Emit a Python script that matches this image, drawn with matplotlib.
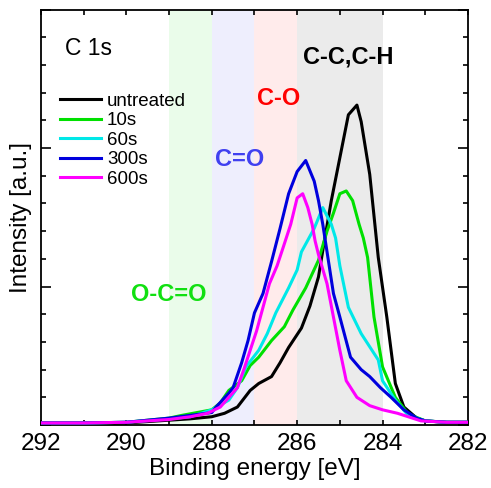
import numpy as np
import matplotlib
matplotlib.use("Agg")
import matplotlib.pyplot as plt
from matplotlib.ticker import MultipleLocator

plt.rcParams['font.family'] = ['Liberation Sans', 'DejaVu Sans']

# binding energy (eV) / intensity (a.u.)
e_untreated = [292, 291, 290, 289, 288.5, 288.0, 287.7, 287.4, 287.1, 286.9, 286.6, 286.4, 286.2,
               285.9, 285.7, 285.5, 285.4, 285.2, 285.0, 284.8, 284.6, 284.5, 284.3, 284.1,
               283.9, 283.7, 283.5, 283.2, 283.0, 282.5, 282.0]
i_untreated = [0.015, 0.015, 0.015, 0.035, 0.045, 0.06, 0.085, 0.13, 0.25, 0.30, 0.35, 0.45, 0.56,
               0.70, 0.86, 1.07, 1.26, 1.62, 1.93, 2.24, 2.31, 2.19, 1.81, 1.21,
               0.78, 0.30, 0.13, 0.05, 0.03, 0.02, 0.02]

e_10s = [292, 291, 290, 289, 288.7, 288.0, 287.8, 287.6, 287.3, 287.1, 286.9, 286.6, 286.3, 286.1,
         285.8, 285.5, 285.3, 285.15, 285.0, 284.85, 284.7, 284.55, 284.45, 284.35, 284.2, 284.0,
         283.7, 283.4, 283.0, 282.5, 282]
i_10s = [0.015, 0.015, 0.02, 0.05, 0.07, 0.11, 0.16, 0.25, 0.32, 0.43, 0.49, 0.61, 0.71, 0.83,
         0.99, 1.19, 1.40, 1.53, 1.67, 1.69, 1.62, 1.45, 1.35, 1.21, 0.78, 0.42,
         0.20, 0.08, 0.03, 0.02, 0.02]

e_60s = [292, 291, 290, 289, 288.5, 288.0, 287.6, 287.4, 287.2, 286.9, 286.7, 286.5, 286.2, 286.0,
         285.9, 285.6, 285.4, 285.2, 285.1, 285.0, 284.8, 284.5, 284.1, 284.0, 283.7, 283.4,
         283.0, 282.5, 282]
i_60s = [0.015, 0.015, 0.02, 0.045, 0.06, 0.11, 0.18, 0.27, 0.42, 0.54, 0.66, 0.81, 0.99, 1.12,
         1.25, 1.42, 1.57, 1.45, 1.35, 1.15, 0.85, 0.66, 0.47, 0.32, 0.18, 0.07,
         0.03, 0.02, 0.02]

e_300s = [292, 291, 290, 289, 288.5, 288.0, 287.9, 287.6, 287.5, 287.3, 287.15, 287.0, 286.8, 286.6,
          286.4, 286.2, 286.0, 285.8, 285.6, 285.5, 285.4, 285.3, 285.15, 285.0, 284.75, 284.5,
          284.3, 284.05, 283.8, 283.5, 283.2, 283.0, 282.5, 282]
i_300s = [0.015, 0.015, 0.02, 0.05, 0.07, 0.09, 0.13, 0.23, 0.27, 0.45, 0.61, 0.81, 0.95, 1.18,
          1.42, 1.67, 1.83, 1.91, 1.76, 1.62, 1.45, 1.25, 0.95, 0.78, 0.49, 0.40,
          0.35, 0.27, 0.20, 0.11, 0.05, 0.03, 0.02, 0.02]

e_600s = [292, 291, 290, 289, 288.5, 288.1, 287.8, 287.6, 287.4, 287.25, 287.1, 286.95, 286.8,
          286.65, 286.47, 286.33, 286.15, 286.0, 285.87, 285.75, 285.65, 285.58, 285.5, 285.3,
          285.15, 285.0, 284.85, 284.6, 284.3, 284.0, 283.65, 283.3, 283.1, 282.5, 282]
i_600s = [0.015, 0.015, 0.02, 0.04, 0.06, 0.085, 0.13, 0.20, 0.27, 0.40, 0.54, 0.68, 0.85,
          1.02, 1.15, 1.28, 1.45, 1.64, 1.67, 1.57, 1.45, 1.33, 1.23, 1.02,
          0.78, 0.54, 0.32, 0.20, 0.14, 0.11, 0.085, 0.05, 0.03, 0.02, 0.02]

series = [("untreated", e_untreated, i_untreated, "black"),
          ("10s", e_10s, i_10s, "#00e000"),
          ("60s", e_60s, i_60s, "#00e8e8"),
          ("300s", e_300s, i_300s, "#0000dd"),
          ("600s", e_600s, i_600s, "#ff00ff")]

# chemical-state regions
bands = [(289, 288, "#eafcea"), (288, 287, "#eeeefd"), (287, 286, "#ffebeb"), (286, 284, "#ebebeb")]
band_labels = [("O-C=O", 289.0, 0.94, "#11e011"), ("C=O", 287.34, 1.92, "#4040f0"),
               ("C-O", 286.43, 2.36, "#ff0000"), ("C-C,C-H", 284.81, 2.66, "black")]

fig = plt.figure(figsize=(4.91, 4.88), dpi=100)
ax = fig.add_axes([0.0835, 0.129, 0.8695, 0.8515])

for hi, lo, c in bands:
    ax.axvspan(lo, hi, color=c, lw=0, zorder=0)

for name, e, i, c in series:
    ax.plot(e, i, color=c, lw=2.2, label=name, zorder=3)

for txt, x, y, c in band_labels:
    ax.text(x, y, txt, color=c, fontsize=17, fontweight="bold", ha="center", va="center", zorder=4)

ax.text(291.44, 2.72, "C 1s", fontsize=16.5, ha="left", va="center")

ax.set_xlim(292, 282)
ax.set_ylim(0, 3)
ax.xaxis.set_major_locator(MultipleLocator(2))
ax.xaxis.set_minor_locator(MultipleLocator(1))
ax.yaxis.set_major_locator(MultipleLocator(1))
ax.yaxis.set_minor_locator(MultipleLocator(0.2))
ax.tick_params(which="both", direction="in", top=True, right=True, width=1.2)
ax.tick_params(axis="y", which="major", length=7)
ax.tick_params(axis="y", which="minor", length=3.5)
ax.tick_params(axis="x", which="both", length=3.5, labelsize=17.5, pad=6)
ax.set_yticklabels([])
for s in ax.spines.values():
    s.set_linewidth(1.3)

ax.set_xlabel("Binding energy [eV]", fontsize=17.5, labelpad=2)
ax.set_ylabel("Intensity [a.u.]", fontsize=17.5, labelpad=3)

ax.legend(loc="upper left", bbox_to_anchor=(0.045, 0.80), frameon=False, fontsize=13.5,
          handlelength=2.2, handletextpad=0.3, labelspacing=0.13, borderpad=0, borderaxespad=0)

fig.savefig("out.png", dpi=100)
